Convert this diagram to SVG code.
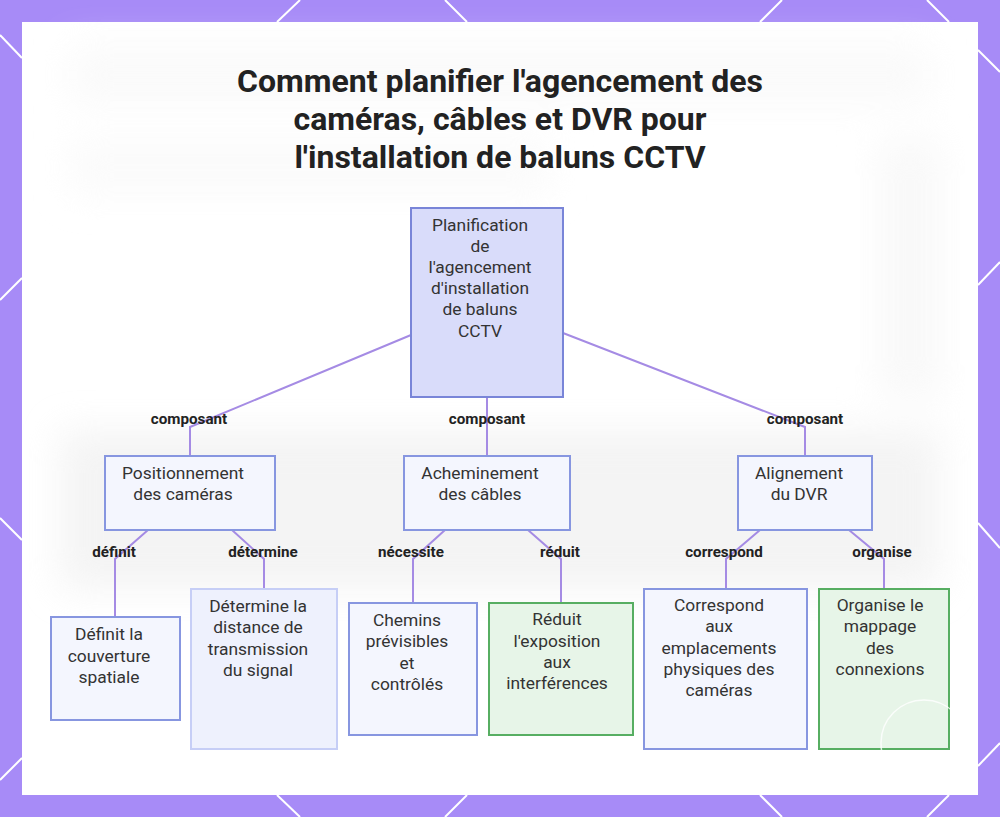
<svg xmlns="http://www.w3.org/2000/svg" width="1000" height="817" viewBox="0 0 1000 817">
<defs>
<filter id="blur" x="-20%" y="-20%" width="140%" height="140%"><feGaussianBlur stdDeviation="18"/></filter>
<style>
.title{font-family:Roboto,"Liberation Sans",sans-serif;font-weight:700;font-size:32px;fill:#222;text-anchor:middle}
.nt{font-family:Roboto,"Liberation Sans",sans-serif;font-size:17.4px;fill:#333;text-anchor:middle}
.lbl{font-family:Roboto,"Liberation Sans",sans-serif;font-weight:700;font-size:15.2px;fill:#222;text-anchor:middle}
.root{fill:#D9DCFA;stroke:#7985D8;stroke-width:2}
.blue{fill:#F4F6FE;stroke:#8796E0;stroke-width:2}
.pale{fill:#EEF1FD;stroke:#C6CEF6;stroke-width:2}
.green{fill:#E7F5E8;stroke:#57AE62;stroke-width:2}
.edge{fill:none;stroke:#A58BE4;stroke-width:2}
.deco{stroke:#FFFFFF;stroke-width:2;fill:none}
</style>
</defs>
<rect x="0" y="0" width="1000" height="817" fill="#A78BF7"/>
<g class="deco">
<line x1="0" y1="35" x2="22" y2="58"/>
<line x1="0" y1="300" x2="22" y2="278"/>
<line x1="0" y1="518" x2="22" y2="540"/>
<line x1="0" y1="780" x2="22" y2="758"/>
<line x1="277" y1="22" x2="300" y2="0"/>
<line x1="445" y1="0" x2="467" y2="22"/>
<line x1="760" y1="22" x2="782" y2="0"/>
<line x1="927" y1="0" x2="949" y2="22"/>
<line x1="978" y1="50" x2="1000" y2="72"/>
<line x1="978" y1="285" x2="1000" y2="262"/>
<line x1="978" y1="523" x2="1000" y2="548"/>
<line x1="978" y1="766" x2="1000" y2="743"/>
<line x1="277" y1="795" x2="300" y2="817"/>
<line x1="445" y1="817" x2="467" y2="795"/>
<line x1="760" y1="795" x2="782" y2="817"/>
<line x1="927" y1="817" x2="949" y2="795"/>
</g>
<rect x="22" y="22" width="956" height="773" fill="#FFFFFF"/>
<g filter="url(#blur)" opacity="0.6">
<rect x="60" y="430" width="880" height="160" fill="#EDEDED"/>
<rect x="880" y="140" width="60" height="260" fill="#F4F4F4"/>
<rect x="70" y="45" width="860" height="60" fill="#F7F7F7"/>
<rect x="70" y="140" width="480" height="55" fill="#F8F8F8"/>
</g>
<g id="title">
<text class="title" x="500" y="92">Comment planifier l'agencement des</text>
<text class="title" x="500" y="130">caméras, câbles et DVR pour</text>
<text class="title" x="500" y="168">l'installation de baluns CCTV</text>
</g>
<g id="connectors">
<polyline class="edge" points="411,335 190,427 190,456"/>
<polyline class="edge" points="487,397 487,456"/>
<polyline class="edge" points="563,333 805,427 805,456"/>
<polyline class="edge" points="148,530 115,559 115,617"/>
<polyline class="edge" points="232,530 264,559 264,589"/>
<polyline class="edge" points="445,530 413,559 413,603"/>
<polyline class="edge" points="528,530 561,559 561,603"/>
<polyline class="edge" points="760,530 726,559 726,589"/>
<polyline class="edge" points="849,530 884,559 884,589"/>
<text class="lbl" x="189" y="424">composant</text>
<text class="lbl" x="487" y="424">composant</text>
<text class="lbl" x="805" y="424">composant</text>
<text class="lbl" x="114" y="557">définit</text>
<text class="lbl" x="263" y="557">détermine</text>
<text class="lbl" x="411" y="557">nécessite</text>
<text class="lbl" x="560" y="557">réduit</text>
<text class="lbl" x="724" y="557">correspond</text>
<text class="lbl" x="882" y="557">organise</text>
</g>
<g id="root">
<rect class="root" x="411" y="208" width="152" height="189"/>
<text class="nt" x="480" y="231">Planification</text>
<text class="nt" x="480" y="252">de</text>
<text class="nt" x="480" y="273">l'agencement</text>
<text class="nt" x="480" y="294">d'installation</text>
<text class="nt" x="480" y="315">de baluns</text>
<text class="nt" x="480" y="337">CCTV</text>
</g>
<g id="positionnement">
<rect class="blue" x="105" y="456" width="170" height="74"/>
<text class="nt" x="183" y="479">Positionnement</text>
<text class="nt" x="183" y="500">des caméras</text>
</g>
<g id="acheminement">
<rect class="blue" x="404" y="456" width="166" height="74"/>
<text class="nt" x="480" y="479">Acheminement</text>
<text class="nt" x="480" y="500">des câbles</text>
</g>
<g id="alignement">
<rect class="blue" x="738" y="456" width="134" height="74"/>
<text class="nt" x="799" y="479">Alignement</text>
<text class="nt" x="799" y="500">du DVR</text>
</g>
<g id="definit">
<rect class="blue" x="51" y="617" width="129" height="103"/>
<text class="nt" x="109" y="640">Définit la</text>
<text class="nt" x="109" y="662">couverture</text>
<text class="nt" x="109" y="683">spatiale</text>
</g>
<g id="determine">
<rect class="pale" x="191" y="589" width="146" height="160"/>
<text class="nt" x="258" y="612">Détermine la</text>
<text class="nt" x="258" y="633">distance de</text>
<text class="nt" x="258" y="655">transmission</text>
<text class="nt" x="258" y="676">du signal</text>
</g>
<g id="chemins">
<rect class="blue" x="349" y="603" width="128" height="132"/>
<text class="nt" x="407" y="626">Chemins</text>
<text class="nt" x="407" y="647">prévisibles</text>
<text class="nt" x="407" y="669">et</text>
<text class="nt" x="407" y="690">contrôlés</text>
</g>
<g id="reduit">
<rect class="green" x="489" y="603" width="144" height="132"/>
<text class="nt" x="557" y="625">Réduit</text>
<text class="nt" x="557" y="647">l'exposition</text>
<text class="nt" x="557" y="668">aux</text>
<text class="nt" x="557" y="689">interférences</text>
</g>
<g id="correspond">
<rect class="blue" x="644" y="589" width="163" height="160"/>
<text class="nt" x="719" y="611">Correspond</text>
<text class="nt" x="719" y="632">aux</text>
<text class="nt" x="719" y="654">emplacements</text>
<text class="nt" x="719" y="675">physiques des</text>
<text class="nt" x="719" y="696">caméras</text>
</g>
<g id="organise">
<rect class="green" x="819" y="589" width="130" height="160"/>
<text class="nt" x="880" y="611">Organise le</text>
<text class="nt" x="880" y="632">mappage</text>
<text class="nt" x="880" y="654">des</text>
<text class="nt" x="880" y="675">connexions</text>
</g>
<circle cx="924" cy="743" r="43" fill="none" stroke="#FFFFFF" stroke-width="1.5" opacity="0.8"/>
</svg>
